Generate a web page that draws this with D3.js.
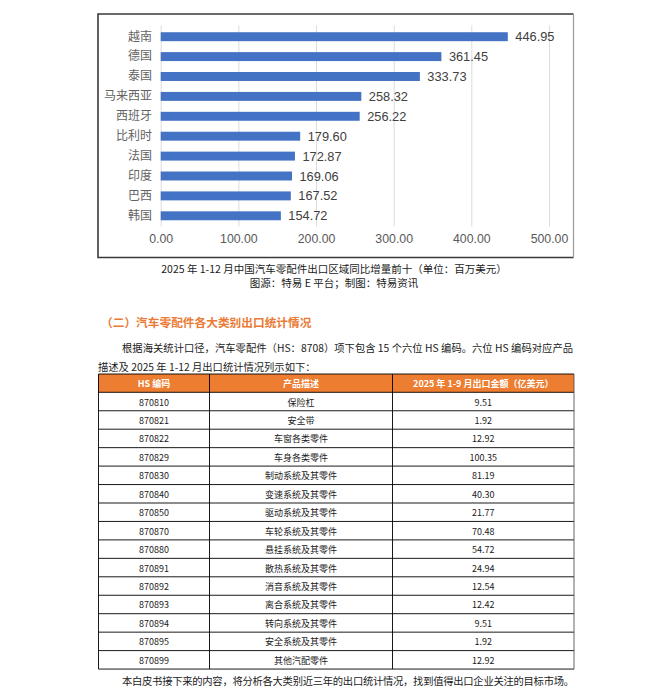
<!DOCTYPE html>
<html>
<head>
<meta charset="utf-8">
<script src="https://cdn.jsdelivr.net/npm/d3@7"></script>
<style>
  html, body { margin: 0; padding: 0; background: #fff; }
  svg { display: block; }
</style>
</head>
<body>
<div id="page"></div>
<script>
// ---------- data ----------
const countries = ["越南", "德国", "泰国", "马来西亚", "西班牙", "比利时", "法国", "印度", "巴西", "韩国"];
const increments = [446.95, 361.45, 333.73, 258.32, 256.22, 179.60, 172.87, 169.06, 167.52, 154.72];
const xTicks = [0, 100, 200, 300, 400, 500];

const captionLines = [
  "2025 年 1-12 月中国汽车零配件出口区域同比增量前十（单位：百万美元）",
  "图源：特易 E 平台；制图：特易资讯"
];
const heading = "（二）汽车零配件各大类别出口统计情况";
const paragraphLines = [
  "根据海关统计口径，汽车零配件（HS：8708）项下包含 15 个六位 HS 编码。六位 HS 编码对应产品",
  "描述及 2025 年 1-12 月出口统计情况列示如下："
];
const tableHeaders = ["HS 编码", "产品描述", "2025 年 1-9 月出口金额（亿美元）"];
const hsCodes = ["870810", "870821", "870822", "870829", "870830", "870840", "870850", "870870", "870880", "870891", "870892", "870893", "870894", "870895", "870899"];
const descriptions = ["保险杠", "安全带", "车窗各类零件", "车身各类零件", "制动系统及其零件", "变速系统及其零件", "驱动系统及其零件", "车轮系统及其零件", "悬挂系统及其零件", "散热系统及其零件", "消音系统及其零件", "离合系统及其零件", "转向系统及其零件", "安全系统及其零件", "其他汽配零件"];
const amounts = ["9.51", "1.92", "12.92", "100.35", "81.19", "40.30", "21.77", "70.48", "54.72", "24.94", "12.54", "12.42", "9.51", "1.92", "12.92"];
const footer = "本白皮书接下来的内容，将分析各大类别近三年的出口统计情况，找到值得出口企业关注的目标市场。";

// ---------- drawing ----------
const W = 671, H = 692;
const svg = d3.select("#page").append("svg").attr("width", W).attr("height", H);
const chartFont = "'Liberation Sans', Arial, 'Noto Sans CJK SC', sans-serif";
const docFont = "'Noto Sans CJK SC', 'Liberation Sans', sans-serif";

// chart frame
const frame = {x: 98, y: 14, w: 475.5, h: 243.5};
svg.append("rect").attr("x", frame.x).attr("y", frame.y).attr("width", frame.w).attr("height", frame.h)
  .attr("fill", "#fff").attr("stroke", "none");
svg.append("path")
  .attr("d", `M${frame.x + frame.w},${frame.y} H${frame.x} V${frame.y + frame.h} H${frame.x + frame.w}`)
  .attr("fill", "none").attr("stroke", "#3a3a3a").attr("stroke-width", 1.6);
svg.append("line").attr("x1", frame.x + frame.w).attr("x2", frame.x + frame.w)
  .attr("y1", frame.y).attr("y2", frame.y + frame.h)
  .attr("stroke", "#9a9a9a").attr("stroke-width", 1.2);

const x = d3.scaleLinear().domain([0, 500]).range([160.7, 549]);
const y = d3.scaleBand().domain(countries).range([26.75, 225.75]).paddingInner(0.55).paddingOuter(0.275);

// gridlines
const grid = svg.append("g");
grid.selectAll("line").data(xTicks).join("line")
  .attr("x1", d => x(d) + 0.5).attr("x2", d => x(d) + 0.5)
  .attr("y1", 25.5).attr("y2", 226.5)
  .attr("stroke", "#dcdcdc").attr("stroke-width", 1);

// x axis labels
const xAxis = d3.axisBottom(x).tickValues(xTicks).tickFormat(d3.format(".2f")).tickSize(0).tickPadding(0);
const xg = svg.append("g").attr("transform", "translate(0,234)").call(xAxis);
xg.select(".domain").remove();
xg.selectAll("text").attr("font-family", chartFont).attr("font-size", 12.3).attr("fill", "#595959");

// y axis labels
const yAxis = d3.axisLeft(y).tickSize(0).tickPadding(0);
const yg = svg.append("g").attr("transform", "translate(152,0)").call(yAxis);
yg.select(".domain").remove();
yg.selectAll("text").attr("font-family", chartFont).attr("font-size", 12).attr("fill", "#636363");

// bars
svg.append("g").selectAll("rect").data(countries).join("rect")
  .attr("x", x(0)).attr("y", d => y(d))
  .attr("width", (d, i) => x(increments[i]) - x(0))
  .attr("height", y.bandwidth())
  .attr("fill", "#4472C4");

// value labels
svg.append("g").selectAll("text").data(countries).join("text")
  .attr("x", (d, i) => x(increments[i]) + 7.5)
  .attr("y", d => y(d) + y.bandwidth() / 2)
  .attr("dominant-baseline", "central")
  .attr("font-family", chartFont).attr("font-size", 12.8).attr("fill", "#404040")
  .text((d, i) => d3.format(".2f")(increments[i]));

// caption
svg.append("g").selectAll("text").data(captionLines).join("text")
  .attr("x", 334).attr("y", (d, i) => 268.5 + i * 14)
  .attr("text-anchor", "middle").attr("dominant-baseline", "central")
  .attr("font-family", docFont).attr("font-size", 10.5).attr("fill", "#1a1a1a")
  .text(d => d);

// heading
svg.append("text").attr("x", 101).attr("y", 321.5)
  .attr("dominant-baseline", "central")
  .attr("font-family", docFont).attr("font-size", 11.7).attr("font-weight", "bold").attr("fill", "#EB7A35")
  .text(heading);

// paragraph
svg.append("text").attr("x", 122).attr("y", 347.5).attr("dominant-baseline", "central")
  .attr("font-family", docFont).attr("font-size", 10.3).attr("fill", "#1a1a1a")
  .attr("textLength", 451).attr("lengthAdjust", "spacing")
  .text(paragraphLines[0]);
svg.append("text").attr("x", 98).attr("y", 366.5).attr("dominant-baseline", "central")
  .attr("font-family", docFont).attr("font-size", 10.3).attr("fill", "#1a1a1a")
  .text(paragraphLines[1]);

// table
const colX = [98.5, 209.5, 392.5, 574];
const headTop = 374, headH = 18.3, rowH = 18.45;
const rowY = d3.scaleLinear().domain([0, hsCodes.length]).range([headTop + headH, headTop + headH + rowH * hsCodes.length]);
const tableBottom = rowY(hsCodes.length);
const tbl = svg.append("g");
tbl.append("rect").attr("x", colX[0]).attr("y", headTop).attr("width", colX[3] - colX[0]).attr("height", headH)
  .attr("fill", "#ED7D31");
tbl.selectAll("text.h").data(tableHeaders).join("text").attr("class", "h")
  .attr("x", (d, i) => (colX[i] + colX[i + 1]) / 2).attr("y", headTop + headH / 2)
  .attr("text-anchor", "middle").attr("dominant-baseline", "central")
  .attr("font-family", docFont).attr("font-size", 9).attr("font-weight", "bold").attr("fill", "#fff")
  .text(d => d);
// horizontal lines
tbl.selectAll("line.r").data(d3.range(hsCodes.length + 1)).join("line").attr("class", "r")
  .attr("x1", colX[0]).attr("x2", colX[3])
  .attr("y1", d => rowY(d)).attr("y2", d => rowY(d))
  .attr("stroke", "#000").attr("stroke-width", 0.9);
tbl.append("line").attr("x1", colX[0]).attr("x2", colX[3]).attr("y1", headTop).attr("y2", headTop)
  .attr("stroke", "#000").attr("stroke-width", 0.9);
// vertical lines
tbl.selectAll("line.c").data(colX).join("line").attr("class", "c")
  .attr("x1", d => d).attr("x2", d => d)
  .attr("y1", headTop).attr("y2", tableBottom)
  .attr("stroke", (d, i) => i === 3 ? "#555" : "#000").attr("stroke-width", 0.9);
// body text
const columns = [hsCodes, descriptions, amounts];
columns.forEach((col, ci) => {
  tbl.append("g").selectAll("text").data(col).join("text")
    .attr("x", (colX[ci] + colX[ci + 1]) / 2)
    .attr("y", (d, i) => rowY(i) + rowH / 2 + 0.5)
    .attr("text-anchor", "middle").attr("dominant-baseline", "central")
    .attr("font-family", docFont).attr("font-size", 9).attr("fill", "#1a1a1a")
    .text(d => d);
});

// footer
svg.append("text").attr("x", 122).attr("y", 680).attr("dominant-baseline", "central")
  .attr("font-family", docFont).attr("font-size", 10.3).attr("fill", "#1a1a1a")
  .attr("textLength", 452).attr("lengthAdjust", "spacing")
  .text(footer);
</script>
</body>
</html>
